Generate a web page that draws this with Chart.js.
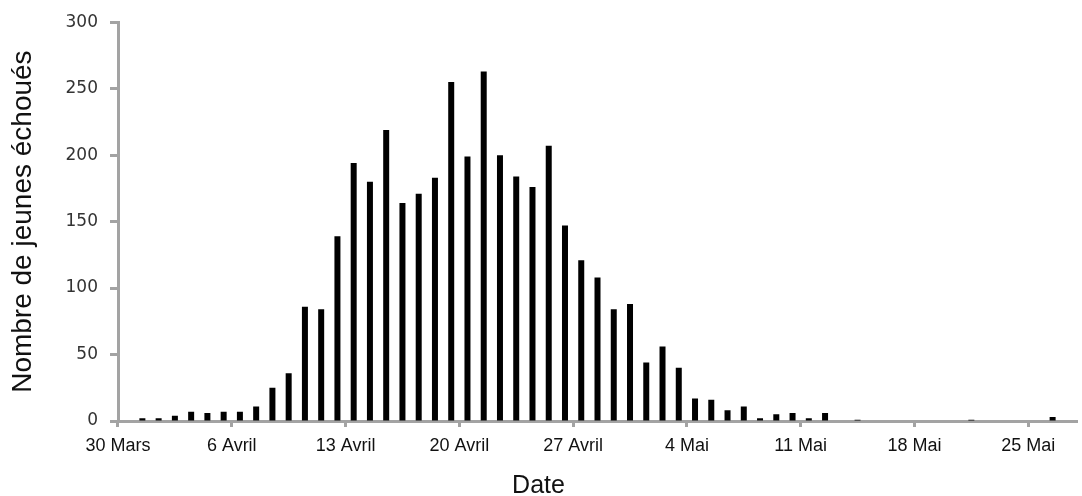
<!DOCTYPE html>
<html lang="fr">
<head>
    <meta charset="UTF-8">
    <title>Nombre de jeunes échoués</title>
    <script src="https://cdn.jsdelivr.net/npm/chart.js@4.4.0/dist/chart.umd.min.js"></script>
    <style>
        body {
            margin: 0;
            background: #fff;
        }

        #chart-container {
            width: 1082px;
            height: 496px;
        }
    </style>
</head>
<body>
<div id="chart-container">
    <canvas id="strandingChart" width="1082" height="496"></canvas>
</div>

<script>
    const days = [
        '30 Mars', '31 Mars',
        '1 Avril', '2 Avril', '3 Avril', '4 Avril', '5 Avril', '6 Avril', '7 Avril', '8 Avril', '9 Avril', '10 Avril',
        '11 Avril', '12 Avril', '13 Avril', '14 Avril', '15 Avril', '16 Avril', '17 Avril', '18 Avril', '19 Avril', '20 Avril',
        '21 Avril', '22 Avril', '23 Avril', '24 Avril', '25 Avril', '26 Avril', '27 Avril', '28 Avril', '29 Avril', '30 Avril',
        '1 Mai', '2 Mai', '3 Mai', '4 Mai', '5 Mai', '6 Mai', '7 Mai', '8 Mai', '9 Mai', '10 Mai',
        '11 Mai', '12 Mai', '13 Mai', '14 Mai', '15 Mai', '16 Mai', '17 Mai', '18 Mai', '19 Mai', '20 Mai',
        '21 Mai', '22 Mai', '23 Mai', '24 Mai', '25 Mai', '26 Mai', '27 Mai'
    ];

    const counts = [
        0, 2,
        2, 4, 7, 6, 7, 7, 11, 25, 36, 86,
        84, 139, 194, 180, 219, 164, 171, 183, 255, 199,
        263, 200, 184, 176, 207, 147, 121, 108, 84, 88,
        44, 56, 40, 17, 16, 8, 11, 2, 5, 6,
        2, 6, 0, 1, 0, 0, 0, 0, 0, 0,
        1, 0, 0, 0, 0, 3, 0
    ];

    const weekLabels = ['30 Mars', '6 Avril', '13 Avril', '20 Avril', '27 Avril', '4 Mai', '11 Mai', '18 Mai', '25 Mai'];
    const yTicks = [0, 50, 100, 150, 200, 250, 300];

    const axisGray = '#a3a3a3';

    const ctx = document.getElementById('strandingChart').getContext('2d');

    new Chart(ctx, {
        type: 'bar',
        data: {
            labels: days,
            datasets: [{
                data: counts,
                backgroundColor: '#000000',
                borderWidth: 0,
                inflateAmount: 0,
                barThickness: 6
            }]
        },
        options: {
            responsive: false,
            animation: false,
            layout: {
                padding: { top: 21, right: 5, bottom: 0, left: 0 }
            },
            plugins: {
                legend: { display: false },
                tooltip: { enabled: false },
                title: {
                    display: true,
                    position: 'bottom',
                    text: 'Date',
                    color: '#111',
                    font: { family: 'Liberation Sans', size: 25, weight: 'normal', lineHeight: 0.76 },
                    padding: 0
                }
            },
            scales: {
                x: {
                    offset: true,
                    afterFit: function(scale) {
                        scale.height = 56;
                    },
                    border: { color: axisGray, width: 3 },
                    grid: {
                        offset: true,
                        drawOnChartArea: false,
                        drawTicks: true,
                        tickLength: 6,
                        tickWidth: 3,
                        tickColor: function(context) {
                            return weekLabels.includes(days[context.index]) ? axisGray : 'rgba(0,0,0,0)';
                        }
                    },
                    ticks: {
                        autoSkip: false,
                        maxRotation: 0,
                        minRotation: 0,
                        padding: 8,
                        labelOffset: -8.13,
                        color: '#111',
                        font: { family: 'Liberation Sans', size: 18 },
                        callback: function(value, index) {
                            const label = days[index];
                            return weekLabels.includes(label) ? label : '';
                        }
                    }
                },
                y: {
                    min: 0,
                    max: 300,
                    afterFit: function(scale) {
                        scale.width = 118;
                    },
                    afterBuildTicks: function(scale) {
                        scale.ticks = yTicks.map(v => ({ value: v }));
                    },
                    border: { color: axisGray, width: 3 },
                    grid: {
                        drawOnChartArea: false,
                        drawTicks: true,
                        tickLength: 8,
                        tickWidth: 3,
                        tickColor: axisGray
                    },
                    ticks: {
                        padding: 12,
                        color: '#333',
                        font: { family: 'DejaVu Sans', size: 17 }
                    },
                    title: {
                        display: true,
                        text: 'Nombre de jeunes échoués',
                        color: '#111',
                        font: { family: 'Liberation Sans', size: 28, weight: 'normal', lineHeight: 1 },
                        padding: { top: 9.5, bottom: 0 }
                    }
                }
            }
        }
    });
</script>
</body>
</html>
